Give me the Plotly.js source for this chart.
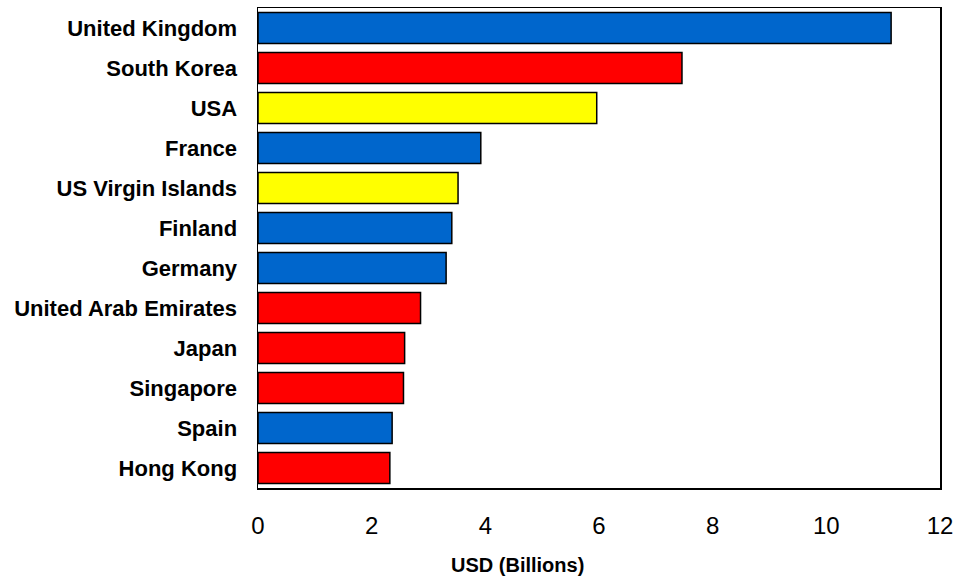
<!DOCTYPE html>
<html>
<head>
<meta charset="utf-8">
<script src="https://cdn.plot.ly/plotly-3.0.1.min.js"></script>
<style>html,body{margin:0;padding:0;background:#fff;}#chart{width:966px;height:576px;}</style>
</head>
<body>
<div id="chart"></div>
<script>
// Countries, top to bottom, with value in USD billions and bar colour
const countries = ["United Kingdom", "South Korea", "USA", "France", "US Virgin Islands", "Finland",
  "Germany", "United Arab Emirates", "Japan", "Singapore", "Spain", "Hong Kong"];
const values = [11.14, 7.46, 5.96, 3.92, 3.52, 3.41, 3.31, 2.86, 2.58, 2.56, 2.36, 2.32];
const colors = ["#0066cc", "#ff0000", "#ffff00", "#0066cc", "#ffff00", "#0066cc",
  "#0066cc", "#ff0000", "#ff0000", "#ff0000", "#0066cc", "#ff0000"];
const tickValues = [0, 2, 4, 6, 8, 10, 12];
const axisTitle = "USD (Billions)";

const trace = {
  type: "bar",
  orientation: "h",
  y: countries,
  x: values,
  marker: { color: colors, line: { color: "#000000", width: 1.5 } },
  width: 0.77,
  hoverinfo: "x+y"
};

const layout = {
  width: 966,
  height: 576,
  margin: { l: 258, r: 26, t: 8, b: 88 },
  paper_bgcolor: "#ffffff",
  plot_bgcolor: "#ffffff",
  showlegend: false,
  font: { family: "Liberation Sans, Arial, sans-serif", color: "#000000" },
  xaxis: {
    range: [0, 12],
    tickvals: tickValues,
    ticktext: tickValues.map(String),
    showgrid: false,
    zeroline: false,
    showline: true,
    linecolor: "#000000",
    linewidth: 1.5,
    mirror: true,
    ticks: "",
    ticklabelstandoff: 16,
    tickfont: { size: 24, family: "Liberation Sans, Arial, sans-serif" }
  },
  yaxis: {
    autorange: "reversed",
    showgrid: false,
    zeroline: false,
    showline: true,
    linecolor: "#000000",
    linewidth: 1.5,
    mirror: true,
    ticks: "",
    ticklabelstandoff: 15,
    tickfont: { size: 22, family: "Liberation Sans, Arial, sans-serif" },
    tickvals: countries,
    ticktext: countries.map(c => "<b>" + c + "</b>")
  },
  // Axis caption sits left of the plot centre
  annotations: [{
    text: "<b>" + axisTitle + "</b>",
    xref: "paper", yref: "paper",
    x: 0.381, y: -0.16,
    xanchor: "center", yanchor: "middle",
    showarrow: false,
    font: { size: 20, family: "Liberation Sans, Arial, sans-serif" }
  }]
};

Plotly.newPlot("chart", [trace], layout, { displayModeBar: false, staticPlot: true });
</script>
</body>
</html>
